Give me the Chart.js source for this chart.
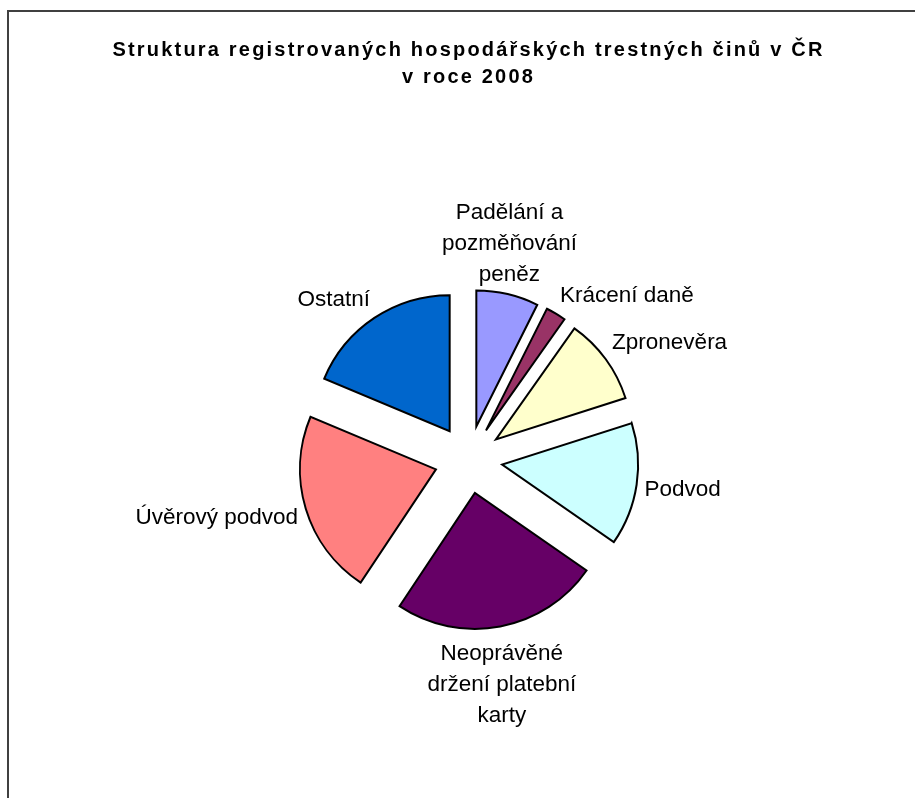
<!DOCTYPE html>
<html>
<head>
<meta charset="utf-8">
<script src="https://cdn.jsdelivr.net/npm/chart.js@4/dist/chart.umd.min.js"></script>
<style>
    html, body { margin: 0; padding: 0; background: #fff; overflow: hidden; }
    #frame {
        position: absolute; left: 7px; top: 10px;
        width: 926px; height: 900px;
        border: 2px solid #404040;
        background: #fff;
    }
</style>
</head>
<body>
<div id="frame"><canvas id="chart" width="926" height="900"></canvas></div>
<script>
// Data
const categories = [
    ['Padělání a', 'pozměňování', 'peněz'],
    ['Krácení daně'],
    ['Zpronevěra'],
    ['Podvod'],
    ['Neoprávěné', 'držení platební', 'karty'],
    ['Úvěrový podvod'],
    ['Ostatní']
];
const shares = [7.4, 2.4, 10.3, 14.6, 24.7, 22.0, 18.7];   // % of all cases
const sliceColors = ['#9999FF', '#993366', '#FFFFCC', '#CCFFFF', '#660066', '#FF8080', '#0066CC'];
const titleLines = ['Struktura registrovaných hospodářských trestných činů v ČR', 'v roce 2008'];

const explodePx = 34;       // how far every slice is pulled out
const labelGap = 8;         // space between a slice and its label
const labelDrop = 4;        // small downward nudge of the label text
const labelFont = '22.5px "Liberation Sans", Arial, sans-serif';
const labelLineHeight = 31;

function clamp01(v) {
    return Math.max(0, Math.min(1, v));
}

// Pulls every slice out from the centre by the same distance
// (the built-in offset also grows the radius of small slices)
const explode = {
    id: 'explode',
    afterUpdate(chart) {
        chart.getDatasetMeta(0).data.forEach(arc => {
            const mid = (arc.startAngle + arc.endAngle) / 2;
            arc.x += Math.cos(mid) * explodePx;
            arc.y += Math.sin(mid) * explodePx;
        });
    }
};

// Draws the category names next to the slices
const sliceLabels = {
    id: 'sliceLabels',
    afterDatasetsDraw(chart) {
        const ctx = chart.ctx;
        const meta = chart.getDatasetMeta(0);
        ctx.save();
        ctx.letterSpacing = '0px';
        ctx.font = labelFont;
        ctx.fillStyle = '#000';
        ctx.textAlign = 'center';
        ctx.textBaseline = 'middle';
        meta.data.forEach((arc, i) => {
            const mid = (arc.startAngle + arc.endAngle) / 2;
            const ux = Math.cos(mid), uy = Math.sin(mid);
            const d = arc.outerRadius + labelGap;
            const ax = arc.x + ux * d, ay = arc.y + uy * d;
            const lines = chart.data.labels[i];
            const w = Math.max(...lines.map(l => ctx.measureText(l).width));
            const h = lines.length * labelLineHeight;
            // box corner / edge facing the pie sits on the anchor
            const sx = Math.sign(ux) * clamp01((Math.abs(ux) - 0.25) / 0.25);
            const sy = Math.sign(uy) * clamp01((Math.abs(uy) - 0.25) / 0.25);
            const cx = ax + sx * w / 2;
            const cy = ay + sy * h / 2 + labelDrop;
            lines.forEach((line, j) => {
                ctx.fillText(line, cx, cy - h / 2 + labelLineHeight * (j + 0.5));
            });
        });
        ctx.restore();
    }
};

// Wider tracking for the title, like the original
const titleSpacing = {
    id: 'titleSpacing',
    beforeDraw(chart) { chart.ctx.letterSpacing = '2.2px'; },
    beforeDatasetsDraw(chart) { chart.ctx.letterSpacing = '0px'; }
};

new Chart(document.getElementById('chart'), {
    type: 'pie',
    data: {
        labels: categories,
        datasets: [{
            data: shares,
            backgroundColor: sliceColors,
            borderColor: '#000',
            borderWidth: 2,
            borderJoinStyle: 'miter',
            radius: 136,
            hoverOffset: 0
        }]
    },
    options: {
        responsive: false,
        animation: false,
        events: [],
        layout: { padding: { top: 0, bottom: 94, left: 0, right: 7 } },
        plugins: {
            legend: { display: false },
            tooltip: { enabled: false },
            title: {
                display: true,
                text: titleLines,
                color: '#000',
                font: { family: '"Liberation Sans", Arial, sans-serif', size: 20, weight: 'bold', lineHeight: 1.35 },
                padding: { top: 25, bottom: 10 }
            }
        }
    },
    plugins: [explode, sliceLabels, titleSpacing]
});
</script>
</body>
</html>
